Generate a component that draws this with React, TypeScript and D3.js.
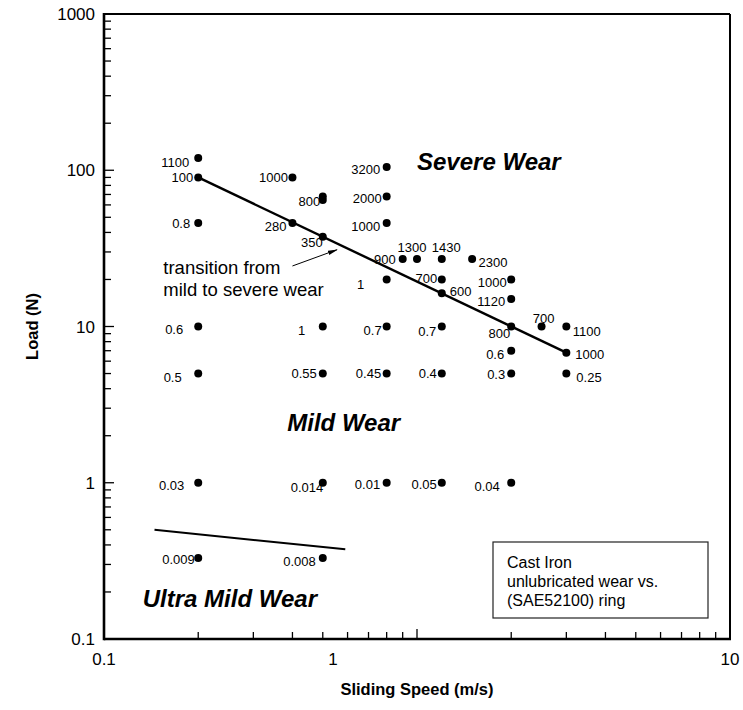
import React from 'react';
import * as d3 from 'd3';

// ---- data ----
const SPEEDS = [
  0.2, 0.2, 0.2, 0.2, 0.2, 0.2, 0.2,
  0.4, 0.4,
  0.5, 0.5, 0.5, 0.5, 0.5, 0.5, 0.5,
  0.8, 0.8, 0.8, 0.8, 0.8, 0.8, 0.8,
  0.9, 1.0, 1.2, 1.5,
  1.2, 1.2, 1.2, 1.2, 1.2,
  2, 2, 2, 2, 2, 2,
  2.5, 3, 3, 3,
];
const LOADS = [
  120, 90, 46, 10, 5, 1, 0.33,
  90, 46,
  68, 64.5, 37.5, 10, 5, 1, 0.33,
  105, 68, 46, 20, 10, 5, 1,
  27, 27, 27, 27,
  20, 16.3, 10, 5, 1,
  20, 15, 10, 7, 5, 1,
  10, 10, 6.8, 5,
];
const WEAR_LABELS = [
  '1100', '100', '0.8', '0.6', '0.5', '0.03', '0.009',
  '1000', '280',
  '800', '', '350', '1', '0.55', '0.014', '0.008',
  '3200', '2000', '1000', '1', '0.7', '0.45', '0.01',
  '900', '1300', '1430', '2300',
  '700', '600', '0.7', '0.4', '0.05',
  '1000', '1120', '800', '0.6', '0.3', '0.04',
  '700', '1100', '1000', '0.25',
];

const TRANSITION_SPEED = [0.2, 3];
const TRANSITION_LOAD = [90, 6.8];
const ULTRA_SPEED = [0.145, 0.59];
const ULTRA_LOAD = [0.5, 0.375];

const X_TICK_LABELS = ['0.1', '1', '10'];
const Y_TICK_LABELS = ['0.1', '1', '10', '100', '1000'];

const REGION_NAMES = ['Severe Wear', 'Mild Wear', 'Ultra Mild Wear'];
const REGION_SPEED = [1.0, 0.385, 0.133];
const REGION_LOAD = [100, 2.15, 0.161];

const NOTE_LINES = ['transition from', 'mild to severe wear'];
const NOTE_AT = [0.1547, 21.7];
const ARROW_FROM = [0.4, 24.4];
const ARROW_TO = [0.555, 31];

const LEGEND_LINES = ['Cast Iron', 'unlubricated wear vs.', '(SAE52100) ring'];

// ---- layout (label placement relative to each dot: anchor, dx, dy) ----
const LABEL_LAYOUT: [string, number, number][] = [
  ['end', -9, 9], ['end', -5, 4.5], ['end', -8, 5], ['end', -15, 7.5], ['end', -16.5, 8], ['end', -14, 7.5], ['end', -3.5, 6.5],
  ['end', -4.5, 5], ['end', -6, 8],
  ['end', -2.5, 10], ['end', 0, 0], ['end', 0, 10.5], ['end', -17.5, 8], ['end', -6, 4.5], ['end', 0.5, 9], ['end', -7, 8.5],
  ['end', -6.5, 7.5], ['end', -5, 6.5], ['end', -6.5, 8.5], ['end', -22.5, 9.5], ['end', -5, 8], ['end', -5.5, 4.5], ['end', -6.5, 6.5],
  ['end', -7, 5], ['middle', -5, -7], ['middle', 4.5, -7], ['start', 6.5, 8],
  ['end', -4.5, 3.5], ['start', 8, 2.5], ['end', -5.5, 9], ['end', -5, 4.5], ['end', -5, 6.5],
  ['end', -4.5, 8], ['end', -6, 7.5], ['end', -1, 11.5], ['end', -7, 8], ['end', -6, 5], ['end', -11.5, 8],
  ['middle', 2, -4], ['start', 6.5, 9], ['start', 9, 6.5], ['start', 10, 8.5],
];
const X_LABEL_NUDGE: Record<string, number> = { '1': -84 };

export default function App() {
  const W = 743;
  const H = 710;
  const m = { left: 104, right: 730, top: 14, bottom: 639 };
  const font = "'Liberation Sans', Arial, Helvetica, sans-serif";

  const x = d3.scaleLog().domain([0.1, 10]).range([m.left, m.right]);
  const y = d3.scaleLog().domain([0.1, 1000]).range([m.bottom, m.top]);

  const isMajor = (v: number) => Math.abs(Math.log10(v) - Math.round(Math.log10(v))) < 1e-6;
  const xt = x.ticks();
  const yt = y.ticks();

  const line = d3.line<[number, number]>().x((d) => x(d[0])).y((d) => y(d[1]));
  const transition = line(TRANSITION_SPEED.map((s, i) => [s, TRANSITION_LOAD[i]] as [number, number]));
  const ultra = line(ULTRA_SPEED.map((s, i) => [s, ULTRA_LOAD[i]] as [number, number]));

  const legend = { x0: 493, y0: 542, x1: 708, y1: 618 };

  return (
    <svg width={W} height={H} style={{ position: 'absolute', left: 0, top: 0, background: '#fff' }} fontFamily={font}>
      <defs>
        <marker id="arrowhead" markerWidth="10" markerHeight="6" refX="9" refY="3" orient="auto" markerUnits="userSpaceOnUse">
          <path d="M0,0.8 L10,3 L0,5.2 Z" fill="#000" />
        </marker>
      </defs>
      <rect x={0} y={0} width={W} height={H} fill="#fff" />

      {/* ticks */}
      {xt.map((v, i) => (
        <line key={'xt' + i} x1={x(v)} x2={x(v)} y1={m.bottom} y2={m.bottom - (isMajor(v) ? 10 : 7)} stroke="#000" strokeWidth={1.3} />
      ))}
      {yt.map((v, i) => (
        <line key={'yt' + i} x1={m.left} x2={m.left + (isMajor(v) ? 10 : 7)} y1={y(v)} y2={y(v)} stroke="#000" strokeWidth={1.3} />
      ))}

      {/* frame */}
      <line x1={m.left} x2={m.right} y1={m.top} y2={m.top} stroke="#000" strokeWidth={2} />
      <line x1={m.right} x2={m.right} y1={m.top} y2={m.bottom} stroke="#000" strokeWidth={2} />
      <line x1={m.left} x2={m.right + 1} y1={m.bottom} y2={m.bottom} stroke="#000" strokeWidth={2.6} />
      <line x1={m.left} x2={m.left} y1={m.top - 1} y2={m.bottom + 1.3} stroke="#000" strokeWidth={2.6} />

      {/* tick labels */}
      {xt.filter(isMajor).map((v, i) => {
        const lab = X_TICK_LABELS[i];
        return (
          <text key={'xl' + i} x={x(v) + (X_LABEL_NUDGE[lab] || 0)} y={m.bottom + 26} textAnchor="middle" fontSize={17}>
            {lab}
          </text>
        );
      })}
      {yt.filter(isMajor).map((v, i) => (
        <text key={'yl' + i} x={m.left - 9} y={y(v) + 6} textAnchor="end" fontSize={17}>
          {Y_TICK_LABELS[i]}
        </text>
      ))}

      {/* axis titles */}
      <text x={(m.left + m.right) / 2} y={695} textAnchor="middle" fontSize={16.5} fontWeight="bold">
        Sliding Speed (m/s)
      </text>
      <text transform={`translate(38,${(m.top + m.bottom) / 2}) rotate(-90)`} textAnchor="middle" fontSize={16.5} fontWeight="bold">
        Load (N)
      </text>

      {/* lines */}
      <path d={transition || ''} fill="none" stroke="#000" strokeWidth={2.4} />
      <path d={ultra || ''} fill="none" stroke="#000" strokeWidth={2} />

      {/* points */}
      {SPEEDS.map((s, i) => (
        <circle key={'p' + i} cx={x(s)} cy={y(LOADS[i])} r={4} fill="#000" />
      ))}
      {SPEEDS.map((s, i) => {
        const lab = WEAR_LABELS[i];
        if (!lab) return null;
        const [anchor, dx, dy] = LABEL_LAYOUT[i];
        return (
          <text key={'l' + i} x={x(s) + dx} y={y(LOADS[i]) + dy} textAnchor={anchor as any} fontSize={13}>
            {lab}
          </text>
        );
      })}

      {/* region names */}
      {REGION_NAMES.map((n, i) => (
        <text key={'r' + i} x={x(REGION_SPEED[i])} y={y(REGION_LOAD[i])} fontSize={24} fontWeight="bold" fontStyle="italic">
          {n}
        </text>
      ))}

      {/* annotation */}
      {NOTE_LINES.map((t, i) => (
        <text key={'n' + i} x={x(NOTE_AT[0])} y={y(NOTE_AT[1]) + i * 22} fontSize={18.5}>
          {t}
        </text>
      ))}
      <line x1={x(ARROW_FROM[0])} y1={y(ARROW_FROM[1])} x2={x(ARROW_TO[0])} y2={y(ARROW_TO[1])} stroke="#000" strokeWidth={1} markerEnd="url(#arrowhead)" />

      {/* legend box */}
      <rect x={legend.x0} y={legend.y0} width={legend.x1 - legend.x0} height={legend.y1 - legend.y0} fill="#fff" stroke="#222" strokeWidth={1.2} />
      {LEGEND_LINES.map((t, i) => (
        <text key={'lg' + i} x={legend.x0 + 14} y={legend.y0 + 26 + i * 19} fontSize={16}>
          {t}
        </text>
      ))}
    </svg>
  );
}
